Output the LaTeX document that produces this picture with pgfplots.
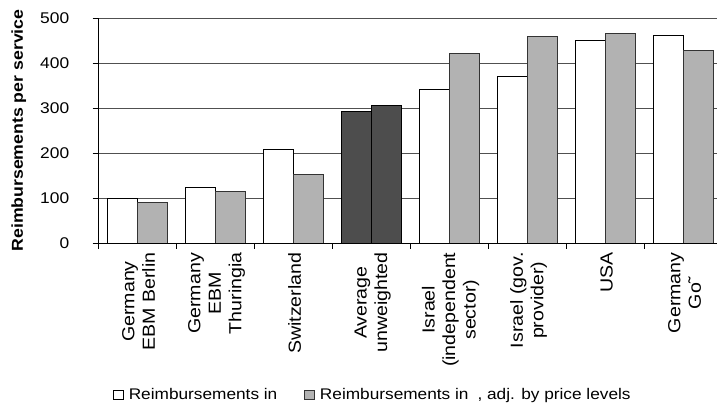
\documentclass[border=0pt]{standalone}
\usepackage{fontspec}
\setmainfont[FakeStretch=1.12]{Liberation Sans}
\usepackage{pgfplots}
\pgfplotsset{compat=1.18}
\definecolor{gbar}{HTML}{B2B2B2}
\definecolor{dbar}{HTML}{4D4D4D}
\definecolor{gridc}{HTML}{505050}
\pgfplotsset{sqlegend/.style={legend image code/.code={\draw[##1, line width=0.6pt] (0pt,-4.5pt) rectangle (10pt,4.5pt);}}}
\begin{document}
\begin{tikzpicture}
\begin{axis}[
  at={(0,0)}, anchor=south west,
  scale only axis, width=618.3pt, height=225pt,
  xmin=-0.5, xmax=7.427, ymin=0, ymax=500,
  ybar, bar width=0.385,
  axis x line=bottom, axis y line=left,
  axis line style={-, black, line width=0.8pt},
  ytick={0,100,...,500}, ymajorgrids, grid style={gridc, line width=0.8pt},
  xtick={0,...,7},
  xticklabels={{Germany\\EBM Berlin},{Germany\\EBM\\Thuringia},{Switzerland},{Average\\unweighted},{Israel\\(independent\\sector)},{Israel (gov.\\provider)},{USA},{Germany\\Go˜}},
  major x tick style={draw=none},
  minor xtick={-0.5,0.5,...,6.5},
  minor tick length=6pt, major tick length=6pt,
  tick align=outside,
  tick style={black, line width=0.8pt},
  /pgf/number format/assume math mode=true,
  yticklabel style={font=\fontsize{15.5}{19}\selectfont, xshift=-20pt},
  xticklabel style={font=\fontsize{17.5}{20.5}\selectfont, rotate=90, anchor=east, align=center, yshift=-1pt},
  ylabel={Reimbursements per service},
  ylabel style={at={(axis description cs:-0.1294,0.5)}, anchor=center, font=\fontsize{15.8}{18}\selectfont\bfseries},
  legend columns=2,
  legend style={at={(axis description cs:0.0231,-0.676)}, anchor=west, draw=none, fill=none, inner sep=0pt,
    font=\fontsize{15.4}{18}\selectfont,
    nodes={inner xsep=5pt},
    /tikz/every even column/.append style={column sep=22pt}},
  legend cell align=left,
]
\addplot+[sqlegend, fill=white, draw=black, line width=0.8pt, bar shift=-0.1925] coordinates {(0,98) (1,124) (2,208) (4,341) (5,370) (6,451) (7,461)};
\addlegendentry{Reimbursements in}
\addplot+[sqlegend, fill=gbar, draw=black!80, line width=0.8pt, bar shift=0.1925] coordinates {(0,90) (1,114) (2,153) (4,422) (5,458) (6,465) (7,427)};
\addlegendentry{Reimbursements in\hspace{9pt}, adj. by price levels}
\addplot+[forget plot, fill=dbar, draw=black, line width=0.8pt, bar shift=-0.1925] coordinates {(3,293)};
\addplot+[forget plot, fill=dbar, draw=black, line width=0.8pt, bar shift=0.1925] coordinates {(3,305)};
\end{axis}
\pgfresetboundingbox
\path (-98.7pt,-160pt) rectangle (618.3pt,243pt);
\end{tikzpicture}
\end{document}
